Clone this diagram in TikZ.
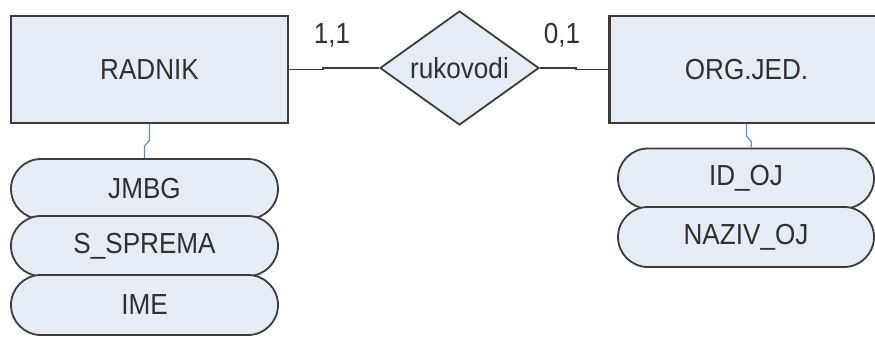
\documentclass[tikz,border=0pt]{standalone}
\usepackage{fontspec}
\setmainfont{Liberation Sans}[FakeStretch=0.9]
\usetikzlibrary{shapes.geometric,shapes.misc}
\definecolor{erfill}{HTML}{E6ECF6}
\definecolor{erline}{HTML}{3C3C3C}
\definecolor{ertext}{HTML}{303030}
\definecolor{erblue}{HTML}{5A8AD2}
\begin{document}
\begin{tikzpicture}[x=0.5pt,y=-0.5pt,
		entity/.style={draw=erline,fill=erfill,line width=1.1pt,rectangle,minimum height=53.5pt,text=ertext,font=\fontsize{14.5}{16}\selectfont},
		attr/.style={draw=erline,fill=erfill,line width=0.9pt,rounded rectangle,minimum height=30pt,inner sep=0pt,text=ertext,font=\fontsize{14.5}{16}\selectfont},
		rel/.style={draw=erline,fill=erfill,line width=0.9pt,diamond,aspect=1.4,minimum width=79.5pt,minimum height=57pt,inner sep=0pt,text=ertext,font=\fontsize{14.5}{16}\selectfont},
		link/.style={draw=erline,line width=0.8pt},
		attrline/.style={draw=erblue,line width=0.6pt}]
	\clip (0,0) rectangle (875,338);
	\fill[white] (0,0) rectangle (875,338);
	% entiteti i veza
	\node[entity,minimum width=138.5pt] (radnik) at (149.5,69.5) {RADNIK};
	\node[entity,minimum width=137pt] (orgjed) at (746.5,69.5) {ORG.JED.};
	\node[rel] (rukovodi) at (459.5,68) {rukovodi};
	\draw[link] (radnik.east) -- ++(34,0) |- (rukovodi.west);
	\draw[link] (rukovodi.east) -- ++(36,0) |- (orgjed.west);
	\node[text=ertext,font=\fontsize{14.5}{16}\selectfont] (kard11) at (332,35) {1,1};
	\node[text=ertext,font=\fontsize{14.5}{16}\selectfont] (kard01) at (562,35) {0,1};
	% atributi RADNIK
	\node[attr,minimum width=133.5pt] (jmbg) at (144.5,189) {JMBG};
	\node[attr,minimum width=133.5pt] (ssprema) at (144.5,246) {S\_SPREMA};
	\node[attr,minimum width=133.5pt] (ime) at (144.5,305) {IME};
	\draw[attrline] (radnik.south) -- ++(0,16) -- ++(-5,6) -- (jmbg.north);
	% atributi ORG.JED.
	\node[attr,minimum width=128pt] (idoj) at (746,178.5) {ID\_OJ};
	\node[attr,minimum width=128pt] (nazivoj) at (746,237) {NAZIV\_OJ};
	\draw[attrline] (orgjed.south) -- ++(0,12) -- ++(5,6) -- ([xshift=2.5pt]idoj.north);
\end{tikzpicture}
\end{document}
